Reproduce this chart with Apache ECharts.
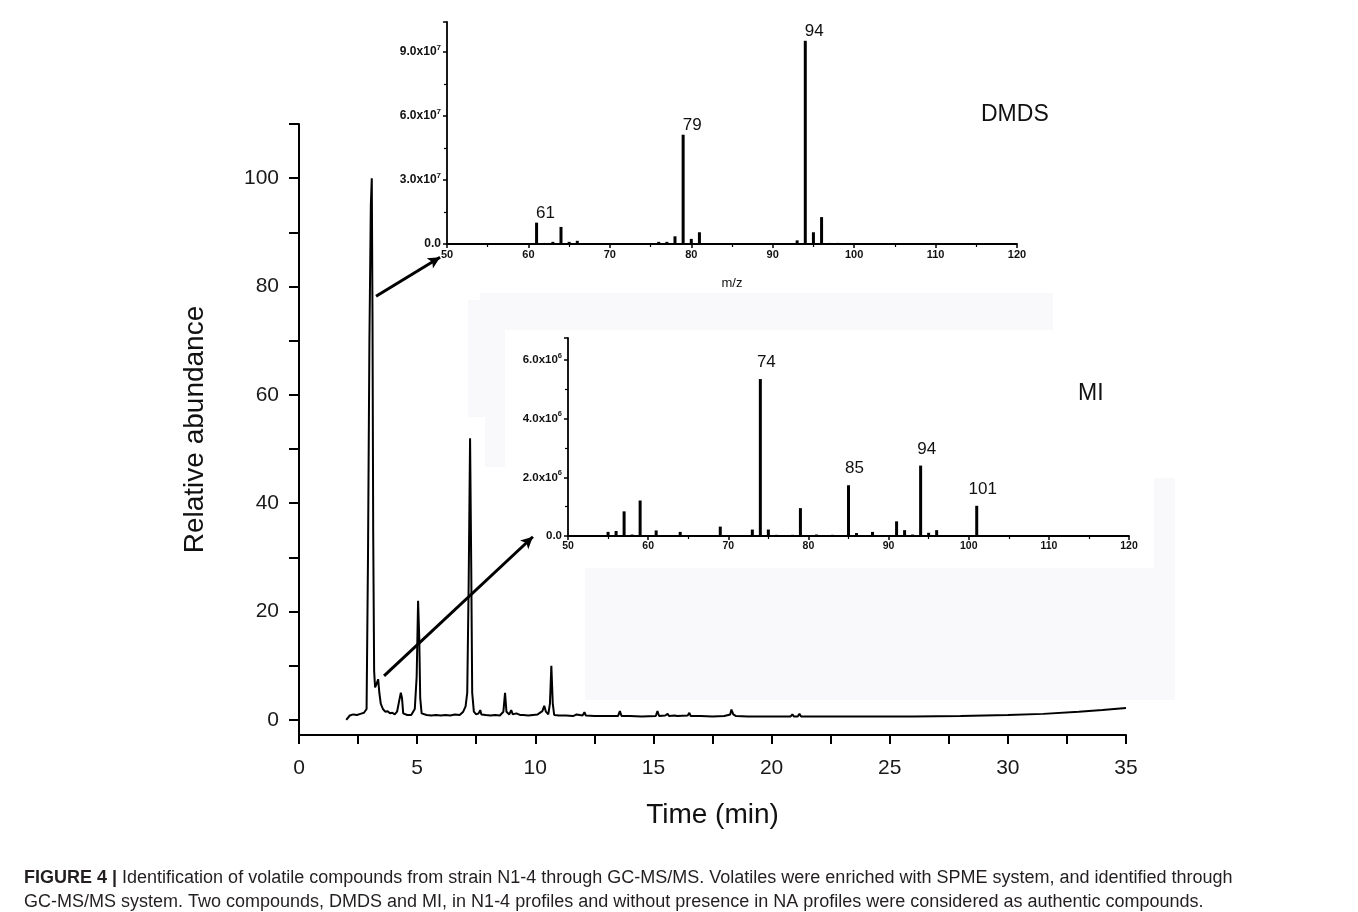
<!DOCTYPE html>
<html>
<head>
<meta charset="utf-8">
<script src="https://cdn.jsdelivr.net/npm/echarts@6/dist/echarts.min.js"></script>
<style>
html,body{margin:0;padding:0;background:#fff;}
#frame{position:absolute;left:7px;top:9px;width:1344px;height:920px;border-top:1.5px solid #222;border-left:1.5px solid #888;border-right:1.5px solid #888;box-sizing:border-box;}
#chart{position:absolute;left:0;top:0;width:1358px;height:912px;}
</style>
</head>
<body>
<div id="frame"></div>
<div id="chart"></div>
<script>
// ---------- Data ----------
// Total ion chromatogram: [time (min), relative abundance]
const chromTime = [2.00,2.05,2.15,2.30,2.45,2.60,2.75,2.86,2.92,2.98,3.04,3.08,3.11,3.14,3.18,3.22,3.28,3.35,3.40,3.46,3.55,3.65,3.75,3.85,3.95,4.05,4.15,4.24,4.31,4.36,4.41,4.48,4.58,4.75,4.90,4.98,5.04,5.09,5.13,5.19,5.27,5.40,5.60,5.80,6.00,6.20,6.40,6.60,6.80,6.95,7.05,7.12,7.18,7.24,7.29,7.33,7.40,7.50,7.60,7.67,7.72,7.90,8.10,8.30,8.50,8.65,8.72,8.78,8.90,8.98,9.05,9.20,9.35,9.50,9.70,9.90,10.10,10.30,10.38,10.45,10.55,10.62,10.68,10.74,10.80,11.00,11.30,11.60,11.75,11.80,12.00,12.08,12.14,12.50,13.00,13.50,13.58,13.65,14.00,14.50,15.10,15.17,15.24,15.50,15.60,15.66,15.90,16.00,16.45,16.52,16.58,17.00,17.50,18.00,18.25,18.30,18.38,18.50,19.00,20.00,20.80,20.88,20.95,21.10,21.18,21.25,22.00,22.55,22.60,22.66,24.00,26.00,28.00,30.00,31.50,33.00,34.00,35.00];
const chromAbund = [0.0,0.3,0.8,1.0,0.9,1.1,1.3,2.0,30,70,95,100,75,35,9,6.0,6.6,7.5,5.0,3.0,2.0,1.5,1.6,1.2,1.3,1.0,1.5,3.5,5.0,4.0,1.2,0.9,0.9,0.9,2.0,8,22,15,4,1.2,0.9,0.9,0.8,0.9,0.8,0.9,0.8,1.0,0.9,1.5,2.5,5,25,52,28,5,1.5,1.0,1.2,1.8,1.0,0.9,0.8,0.9,0.8,1.5,5.0,1.5,1.0,1.8,1.0,1.2,0.9,0.9,0.8,0.9,1.0,1.6,2.6,1.5,1.0,3,10,3,0.9,0.8,0.8,0.7,1.0,0.8,0.8,1.4,0.8,0.7,0.7,0.7,1.6,0.7,0.7,0.6,0.7,1.6,0.7,0.8,1.1,0.7,0.8,0.7,0.8,1.3,0.7,0.7,0.6,0.7,1.0,1.9,1.0,0.7,0.6,0.6,0.6,1.0,0.6,0.6,1.1,0.6,0.6,0.6,0.9,0.6,0.6,0.6,0.7,0.9,1.1,1.5,1.8,2.2];

// DMDS mass spectrum: m/z and abundance
const dmdsMz  = [61,62,63,64,65,66,76,77,78,79,80,81,93,94,95,96,97,98];
const dmdsAbd = [1.0e7,0.05e7,0.1e7,0.8e7,0.1e7,0.15e7,0.1e7,0.1e7,0.36e7,5.12e7,0.24e7,0.55e7,0.17e7,9.52e7,0.55e7,1.26e7,0.05e7,0.05e7];
const dmdsLabeled = [61,79,94];

// MI mass spectrum
const miMz  = [55,56,57,58,59,61,62,64,65,69,73,74,75,76,78,79,81,83,85,86,88,91,92,93,94,95,96,101,102];
const miAbd = [0.14e6,0.17e6,0.84e6,0.05e6,1.21e6,0.19e6,0.03e6,0.14e6,0.03e6,0.32e6,0.22e6,5.35e6,0.22e6,0.04e6,0.04e6,0.95e6,0.05e6,0.04e6,1.73e6,0.1e6,0.14e6,0.5e6,0.2e6,0.05e6,2.4e6,0.11e6,0.2e6,1.03e6,0.03e6];
const miLabeled = [74,85,94,101];

// Arrows (main chart data coordinates): [from, to]
const arrowDmds = [[3.26,78.2],[5.97,85.4]];
const arrowMi   = [[3.60,8.1],[9.90,33.8]];

// Tick values / labels
const mainXTicks  = [0,5,10,15,20,25,30,35];
const mainYTicks  = [0,10,20,30,40,50,60,70,80,90,100,110];
const mainYLabels = [0,20,40,60,80,100];

const captionLine1 = 'Identification of volatile compounds from strain N1-4 through GC-MS/MS. Volatiles were enriched with SPME system, and identified through';
const captionLine2 = 'GC-MS/MS system. Two compounds, DMDS and MI, in N1-4 profiles and without presence in NA profiles were considered as authentic compounds.';

// ---------- Chart ----------
const FONT = '"Liberation Sans", Arial, sans-serif';
const chart = echarts.init(document.getElementById('chart'), null, {renderer:'canvas'});

const chromData = chromTime.map((t,i)=>[t, chromAbund[i]]);
function barData(mz, abd, labeled){
  return mz.map((m,i)=>{
    const item = {value:[m, abd[i]]};
    if (labeled.indexOf(m) >= 0) item.label = {show:true, formatter: String(m)};
    return item;
  });
}
function sciLabel(exp, step){
  return function(v){
    const k = v/Math.pow(10,exp);
    if (Math.abs(k/step - Math.round(k/step)) > 1e-6) return '';
    if (v === 0) return '0.0';
    return k.toFixed(1) + 'x10{sup|' + exp + '}';
  };
}
const axisBlack = {onZero:false, lineStyle:{color:'#000', width:2}};
const insetAxisLine = {onZero:false, lineStyle:{color:'#000', width:1.8}};

const option = {
  animation:false,
  backgroundColor:'#ffffff',
  title:[
    {text:'DMDS', left:976, top:98, textStyle:{fontFamily:FONT, fontSize:23, fontWeight:'normal', color:'#111'}},
    {text:'MI', left:1073, top:377, textStyle:{fontFamily:FONT, fontSize:23, fontWeight:'normal', color:'#111'}},
    {text:'{b|FIGURE 4 |} ' + captionLine1 + '\n' + captionLine2, left:19, top:861,
     textStyle:{fontFamily:FONT, fontSize:18, fontWeight:'normal', color:'#231f20', lineHeight:24,
       rich:{b:{fontFamily:FONT, fontSize:18, fontWeight:'bold', color:'#231f20', lineHeight:24}}}}
  ],
  graphic:[
    {type:'rect', z:-10, shape:{x:480,y:293,width:573,height:37}, style:{fill:'#f9f9fb'}},
    {type:'rect', z:-10, shape:{x:468,y:300,width:37,height:117}, style:{fill:'#f9f9fb'}},
    {type:'rect', z:-10, shape:{x:485,y:417,width:20,height:50}, style:{fill:'#f9f9fb'}},
    {type:'rect', z:-10, shape:{x:585,y:568,width:590,height:132}, style:{fill:'#f9f9fb'}},
    {type:'rect', z:-10, shape:{x:1154,y:478,width:21,height:90}, style:{fill:'#f9f9fb'}}
  ],
  grid:[
    {left:299, top:124, width:827, height:611},
    {left:447, top:22, width:570, height:222},
    {left:568, top:338, width:561, height:198}
  ],
  xAxis:[
    {gridIndex:0, type:'value', min:0, max:35, interval:5,
     axisLine:axisBlack,
     axisTick:{show:true, length:9, lineStyle:{color:'#000', width:2}},
     minorTick:{show:true, splitNumber:2, length:9, lineStyle:{color:'#000', width:2}},
     splitLine:{show:false},
     axisLabel:{fontFamily:FONT, fontSize:21, color:'#1a1a1a', margin:23,
       formatter:v=> mainXTicks.indexOf(v)>=0 ? String(v) : ''},
     name:'Time (min)', nameLocation:'middle', nameGap:66,
     nameTextStyle:{fontFamily:FONT, fontSize:28, color:'#111'}},
    {gridIndex:1, type:'value', min:50, max:120, interval:10,
     axisLine:insetAxisLine,
     axisTick:{show:true, length:4, lineStyle:{color:'#000', width:1.5}},
     minorTick:{show:true, splitNumber:2, length:3, lineStyle:{color:'#000', width:1.2}},
     splitLine:{show:false},
     axisLabel:{fontFamily:FONT, fontSize:11, fontWeight:'bold', color:'#111', margin:5},
     name:'m/z', nameLocation:'middle', nameGap:33,
     nameTextStyle:{fontFamily:FONT, fontSize:13, color:'#111'}},
    {gridIndex:2, type:'value', min:50, max:120, interval:10,
     axisLine:insetAxisLine,
     axisTick:{show:true, length:4, lineStyle:{color:'#000', width:1.5}},
     minorTick:{show:true, splitNumber:2, length:3, lineStyle:{color:'#000', width:1.2}},
     splitLine:{show:false},
     axisLabel:{fontFamily:FONT, fontSize:10.5, fontWeight:'bold', color:'#111', margin:5}}
  ],
  yAxis:[
    {gridIndex:0, type:'value', min:-2.8, max:110,
     axisLine:axisBlack,
     axisTick:{show:true, length:10, customValues:mainYTicks, lineStyle:{color:'#000', width:2}},
     splitLine:{show:false},
     axisLabel:{fontFamily:FONT, fontSize:21, color:'#1a1a1a', margin:20, customValues:mainYLabels},
     name:'Relative abundance', nameLocation:'middle', nameGap:90,
     nameTextStyle:{fontFamily:FONT, fontSize:28, color:'#111'}},
    {gridIndex:1, type:'value', min:0, max:1.04e8, interval:3e7,
     axisLine:insetAxisLine,
     axisTick:{show:true, length:4, lineStyle:{color:'#000', width:1.5}},
     minorTick:{show:true, splitNumber:2, length:3, lineStyle:{color:'#000', width:1.2}},
     splitLine:{show:false},
     axisLabel:{fontFamily:FONT, fontSize:12, fontWeight:'bold', color:'#111', margin:6,
       formatter:sciLabel(7,3),
       rich:{sup:{fontFamily:FONT, fontSize:8, fontWeight:'bold', color:'#111', padding:[0,0,9,0]}}}},
    {gridIndex:2, type:'value', min:0, max:6.75e6, interval:2e6,
     axisLine:insetAxisLine,
     axisTick:{show:true, length:4, lineStyle:{color:'#000', width:1.5}},
     minorTick:{show:true, splitNumber:2, length:3, lineStyle:{color:'#000', width:1.2}},
     splitLine:{show:false},
     axisLabel:{fontFamily:FONT, fontSize:11.5, fontWeight:'bold', color:'#111', margin:6,
       formatter:sciLabel(6,2),
       rich:{sup:{fontFamily:FONT, fontSize:7.5, fontWeight:'bold', color:'#111', padding:[0,0,9,0]}}}}
  ],
  series:[
    {type:'line', xAxisIndex:0, yAxisIndex:0, data:chromData, showSymbol:false, symbol:'none',
     lineStyle:{color:'#000', width:2}, z:3,
     markLine:{silent:true, symbol:['none','arrow'], symbolSize:[9,12], label:{show:false},
       lineStyle:{color:'#000', width:3, type:'solid'},
       data:[
         [{coord:arrowDmds[0]},{coord:arrowDmds[1]}],
         [{coord:arrowMi[0]},{coord:arrowMi[1]}]
       ]}},
    {type:'bar', xAxisIndex:1, yAxisIndex:1, data:barData(dmdsMz,dmdsAbd,dmdsLabeled), barWidth:3,
     itemStyle:{color:'#000'},
     label:{show:false, position:'top', distance:1, offset:[9,0], fontFamily:FONT, fontSize:17, color:'#111'}},
    {type:'bar', xAxisIndex:2, yAxisIndex:2, data:barData(miMz,miAbd,miLabeled), barWidth:3,
     itemStyle:{color:'#000'},
     label:{show:false, position:'top', distance:8, offset:[6,0], fontFamily:FONT, fontSize:17, color:'#111'}}
  ]
};
chart.setOption(option);
</script>
</body>
</html>
